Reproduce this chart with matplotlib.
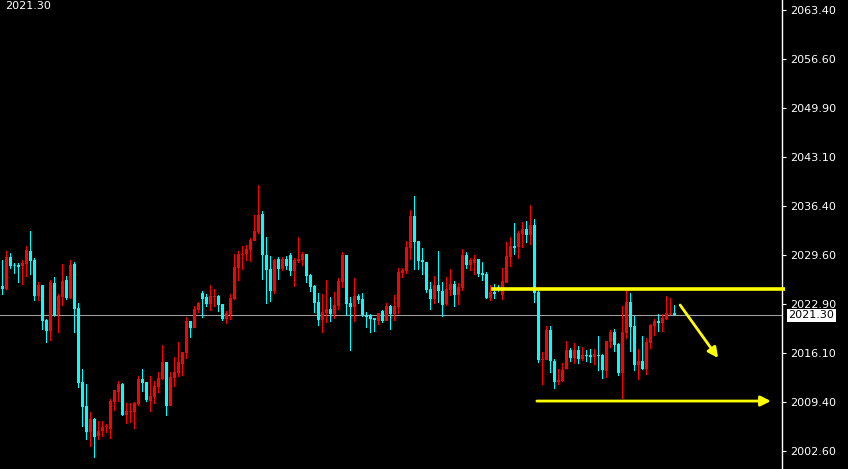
import numpy as np
import matplotlib
matplotlib.use("Agg")
import matplotlib.pyplot as plt
import matplotlib.transforms as mtransforms

# OHLC, one value per candle (169 candles)
opens = [
    2025.34, 2024.89, 2029.34, 2028.29, 2028.24, 2028.10, 2028.38, 2030.17, 2028.93, 2023.97,
    2025.48, 2020.66, 2019.14, 2025.76, 2021.35, 2023.83, 2026.17, 2023.69, 2028.38, 2022.31,
    2012.11, 2008.80, 2005.21, 2007.01, 2004.66, 2005.35, 2005.90, 2005.63, 2009.35, 2010.73,
    2011.83, 2007.56, 2007.97, 2007.97, 2009.07, 2012.52, 2012.11, 2009.49, 2010.04, 2011.42,
    2012.52, 2014.87, 2008.80, 2012.66, 2013.35, 2014.59, 2016.11, 2020.52, 2019.55, 2022.04,
    2024.38, 2023.83, 2022.86, 2023.83, 2023.97, 2022.86, 2020.80, 2021.35, 2023.55, 2027.83,
    2029.62, 2029.76, 2030.31, 2031.55, 2032.79, 2035.27, 2029.62, 2027.69, 2024.66, 2029.07,
    2027.69, 2029.07, 2029.62, 2027.41, 2028.79, 2028.93, 2029.76, 2026.86, 2025.35, 2023.14,
    2020.66, 2021.62, 2022.17, 2021.49, 2022.59, 2025.90, 2029.62, 2023.00, 2022.45, 2023.97,
    2023.55, 2021.35, 2021.35, 2020.93, 2020.52, 2021.90, 2020.52, 2022.59, 2021.48, 2022.45,
    2027.14, 2027.41, 2030.58, 2035.00, 2031.55, 2028.93, 2028.65, 2024.93, 2023.55, 2025.48,
    2024.66, 2022.86, 2024.79, 2025.62, 2024.10, 2025.07, 2029.62, 2028.24, 2028.52, 2029.07,
    2027.14, 2027.00, 2023.69, 2024.52, 2025.16, 2024.10, 2025.76, 2029.34, 2030.86, 2030.72,
    2032.51, 2033.20, 2032.38, 2033.76, 2024.52, 2015.14, 2015.14, 2019.28, 2015.00, 2012.11,
    2012.25, 2013.90, 2016.52, 2015.42, 2016.52, 2015.28, 2015.83, 2015.83, 2015.55, 2015.83,
    2015.83, 2013.62, 2017.62, 2019.00, 2017.35, 2013.35, 2018.86, 2023.14, 2019.83, 2014.45,
    2015.00, 2013.90, 2017.48, 2019.83, 2020.52, 2020.24, 2020.79, 2021.48, 2021.62,
]
closes = [
    2024.93, 2029.34, 2028.10, 2028.15, 2027.96, 2028.52, 2030.31, 2028.79, 2023.97, 2025.48,
    2020.52, 2019.14, 2025.90, 2021.21, 2023.97, 2026.03, 2023.69, 2028.24, 2022.17, 2011.97,
    2008.66, 2005.21, 2007.01, 2004.52, 2005.35, 2005.90, 2006.04, 2009.49, 2011.01, 2011.83,
    2007.56, 2008.11, 2008.11, 2009.21, 2012.52, 2011.97, 2009.63, 2010.18, 2011.56, 2012.66,
    2014.87, 2008.80, 2012.80, 2013.49, 2014.87, 2016.24, 2020.52, 2019.55, 2022.17, 2023.00,
    2023.55, 2022.86, 2023.97, 2023.97, 2022.73, 2020.80, 2021.62, 2023.69, 2027.97, 2029.76,
    2029.76, 2030.45, 2031.69, 2032.93, 2035.14, 2029.62, 2027.55, 2024.66, 2028.93, 2027.69,
    2029.07, 2028.10, 2027.41, 2028.93, 2029.07, 2029.76, 2026.72, 2025.21, 2023.00, 2020.66,
    2021.76, 2022.17, 2021.49, 2022.73, 2026.04, 2029.62, 2022.86, 2022.45, 2023.97, 2023.42,
    2021.21, 2021.07, 2020.79, 2020.66, 2021.62, 2020.52, 2022.59, 2021.48, 2022.59, 2027.28,
    2027.55, 2030.72, 2035.00, 2031.41, 2028.79, 2028.65, 2024.79, 2023.55, 2025.48, 2024.66,
    2022.72, 2024.93, 2025.62, 2024.10, 2025.21, 2029.62, 2028.24, 2028.93, 2029.07, 2027.00,
    2026.86, 2023.69, 2024.52, 2024.24, 2024.89, 2026.03, 2029.48, 2030.86, 2030.58, 2032.65,
    2033.20, 2032.38, 2033.76, 2024.38, 2015.14, 2015.28, 2019.28, 2015.00, 2012.11, 2012.38,
    2013.76, 2016.52, 2015.42, 2016.52, 2015.28, 2015.83, 2015.69, 2015.55, 2015.97, 2015.69,
    2013.76, 2017.76, 2019.00, 2017.21, 2013.35, 2019.00, 2023.14, 2019.69, 2014.45, 2015.00,
    2013.90, 2017.62, 2019.97, 2020.52, 2020.24, 2020.93, 2021.62, 2021.62, 2021.30,
]
highs = [
    2028.93, 2030.17, 2029.89, 2028.52, 2028.52, 2028.93, 2030.86, 2032.93, 2029.21, 2025.90,
    2025.48, 2020.79, 2026.17, 2026.59, 2024.24, 2028.38, 2026.72, 2028.93, 2028.65, 2023.00,
    2013.90, 2011.83, 2007.97, 2007.15, 2006.73, 2006.73, 2006.32, 2009.76, 2011.01, 2012.25,
    2011.97, 2009.21, 2009.21, 2009.35, 2012.94, 2013.90, 2012.11, 2012.94, 2012.25, 2013.49,
    2017.21, 2014.87, 2013.49, 2015.56, 2017.62, 2016.24, 2021.07, 2020.52, 2022.59, 2023.14,
    2024.66, 2024.24, 2025.48, 2024.93, 2024.10, 2022.86, 2021.90, 2024.24, 2029.76, 2030.17,
    2030.86, 2031.00, 2031.96, 2035.14, 2039.27, 2035.69, 2032.10, 2029.48, 2029.07, 2029.34,
    2029.34, 2029.48, 2029.90, 2029.21, 2032.10, 2030.03, 2029.76, 2027.00, 2025.48, 2024.38,
    2024.24, 2026.17, 2023.83, 2024.52, 2026.45, 2030.03, 2029.62, 2023.83, 2026.45, 2024.24,
    2024.38, 2021.76, 2021.48, 2020.93, 2021.62, 2022.04, 2023.00, 2022.73, 2024.10, 2027.83,
    2027.83, 2031.55, 2035.82, 2037.75, 2031.55, 2030.58, 2028.65, 2025.90, 2026.72, 2030.17,
    2025.90, 2026.59, 2027.69, 2026.03, 2025.76, 2030.45, 2030.03, 2029.21, 2029.62, 2029.07,
    2028.65, 2027.28, 2025.48, 2025.62, 2025.48, 2027.83, 2031.41, 2032.10, 2034.03, 2032.93,
    2034.17, 2034.31, 2036.51, 2034.58, 2024.79, 2016.24, 2019.83, 2019.83, 2015.28, 2013.90,
    2014.73, 2017.76, 2016.80, 2017.48, 2017.07, 2016.93, 2016.52, 2016.66, 2016.66, 2018.45,
    2015.97, 2017.76, 2019.28, 2019.41, 2017.48, 2022.59, 2024.79, 2024.38, 2021.21, 2016.66,
    2018.45, 2018.17, 2020.10, 2020.79, 2021.48, 2021.48, 2023.96, 2023.69, 2022.72,
]
lows = [
    2024.10, 2024.79, 2027.69, 2027.00, 2025.76, 2025.48, 2026.59, 2026.86, 2023.28, 2023.28,
    2019.28, 2017.49, 2017.76, 2021.12, 2018.86, 2022.59, 2023.41, 2023.55, 2018.86, 2011.28,
    2005.90, 2004.11, 2003.15, 2001.63, 2004.11, 2004.52, 2005.08, 2004.25, 2008.11, 2009.35,
    2007.42, 2006.32, 2006.46, 2005.63, 2008.80, 2010.73, 2009.35, 2007.97, 2009.07, 2010.59,
    2012.38, 2007.42, 2008.80, 2011.42, 2012.80, 2012.94, 2015.28, 2018.18, 2019.55, 2021.62,
    2020.93, 2022.45, 2021.90, 2022.45, 2021.76, 2020.52, 2020.11, 2020.66, 2023.42, 2026.04,
    2027.55, 2028.79, 2028.66, 2031.55, 2032.52, 2026.17, 2022.86, 2023.14, 2024.24, 2026.17,
    2027.41, 2027.55, 2026.72, 2025.21, 2028.52, 2028.10, 2025.76, 2024.52, 2021.62, 2019.83,
    2018.87, 2020.24, 2020.38, 2020.80, 2022.04, 2025.07, 2021.21, 2016.38, 2020.38, 2022.86,
    2021.07, 2019.55, 2018.86, 2019.00, 2019.97, 2020.24, 2020.52, 2019.28, 2020.52, 2021.48,
    2026.45, 2027.00, 2028.93, 2027.55, 2027.55, 2026.86, 2024.38, 2022.04, 2022.86, 2023.00,
    2021.07, 2022.59, 2023.97, 2022.45, 2022.72, 2024.66, 2027.69, 2027.41, 2026.86, 2026.59,
    2026.03, 2023.55, 2023.28, 2023.55, 2024.56, 2023.41, 2025.76, 2027.96, 2029.62, 2029.07,
    2030.58, 2031.27, 2031.00, 2023.00, 2014.73, 2011.69, 2015.14, 2013.35, 2011.14, 2011.69,
    2012.11, 2013.90, 2014.86, 2014.59, 2014.59, 2015.00, 2014.86, 2014.73, 2014.45, 2013.62,
    2012.52, 2012.66, 2016.80, 2016.24, 2012.93, 2009.76, 2018.04, 2016.24, 2013.62, 2012.38,
    2013.76, 2013.07, 2016.66, 2018.45, 2019.00, 2019.00, 2020.66, 2021.35, 2021.30,
]

price_ticks = [2063.40, 2056.60, 2049.90, 2043.10, 2036.40, 2029.60, 2022.90, 2016.10, 2009.40, 2002.60]
last_price = 2021.30

# hand-drawn levels / arrows (bar index, price)
resistance_level = 2024.93
resistance_start = 122.1
support_arrow = ((133.6, 2009.49), (192.1, 2009.49))
down_arrow = ((169.4, 2022.73), (178.9, 2015.42))

UP = "#ff0000"
DOWN = "#00ffff"
BG = "#000000"

o = np.array(opens)
c = np.array(closes)
h = np.array(highs)
l = np.array(lows)
x = np.arange(len(o))
cols = np.where(c > o, UP, DOWN)

W, H = 848, 469
fig = plt.figure(figsize=(W / 100, H / 100), dpi=100, facecolor=BG)
ax = fig.add_axes([0, 0, 782 / W, 1])
ax.set_facecolor(BG)

# 4 px per bar, first bar centred on pixel column 2
ax.set_xlim(-0.625, 194.875)
ax.set_ylim(2000.12, 2064.78)

# current price line
ax.axhline(last_price, color="#a0a0a0", lw=0.75, zorder=1)

ax.vlines(x, l, h, colors=cols, lw=0.72, snap=False, zorder=2)
body_h = np.maximum(np.abs(c - o), 0.14)
body_b = np.minimum(o, c)
bars = ax.bar(x, body_h, bottom=body_b, width=0.75, color=cols, linewidth=0, zorder=3)
for b in bars:
    b.set_snap(False)

# annotations
yellow = "#ffff00"
ax.plot([resistance_start, 195.6], [resistance_level] * 2, color=yellow, lw=2.6,
        solid_capstyle="butt", clip_on=False, zorder=4)
ax.annotate("", xy=support_arrow[1], xytext=support_arrow[0],
            arrowprops=dict(arrowstyle="-|>", color=yellow, lw=2.0,
                            mutation_scale=15, shrinkA=0, shrinkB=0),
            annotation_clip=False, zorder=4)
ax.annotate("", xy=down_arrow[1], xytext=down_arrow[0],
            arrowprops=dict(arrowstyle="-|>", color=yellow, lw=2.0,
                            mutation_scale=15, shrinkA=0, shrinkB=0),
            zorder=4)

# right price axis
for s in ["top", "left", "bottom"]:
    ax.spines[s].set_visible(False)
ax.spines["right"].set_color("white")
ax.spines["right"].set_linewidth(1)
ax.set_xticks([])
ax.yaxis.tick_right()
ax.set_yticks(price_ticks)
ax.set_yticklabels([f"{v:.2f}" for v in price_ticks])
ax.tick_params(axis="y", colors="white", length=3, width=0.8, pad=3,
               labelsize=8, labelcolor="white")

trans = mtransforms.blended_transform_factory(ax.transAxes, ax.transData)
ax.text(1.008, last_price, f"{last_price:.2f}", transform=trans, ha="left",
        va="center", fontsize=8, color="black", zorder=6,
        bbox=dict(facecolor="white", edgecolor="none", pad=1.2))

fig.text(5 / W, 1 - 6 / H, f"{last_price:.2f}", color="white", fontsize=8,
         ha="left", va="center")

fig.savefig("out.png", dpi=100, facecolor=BG)
